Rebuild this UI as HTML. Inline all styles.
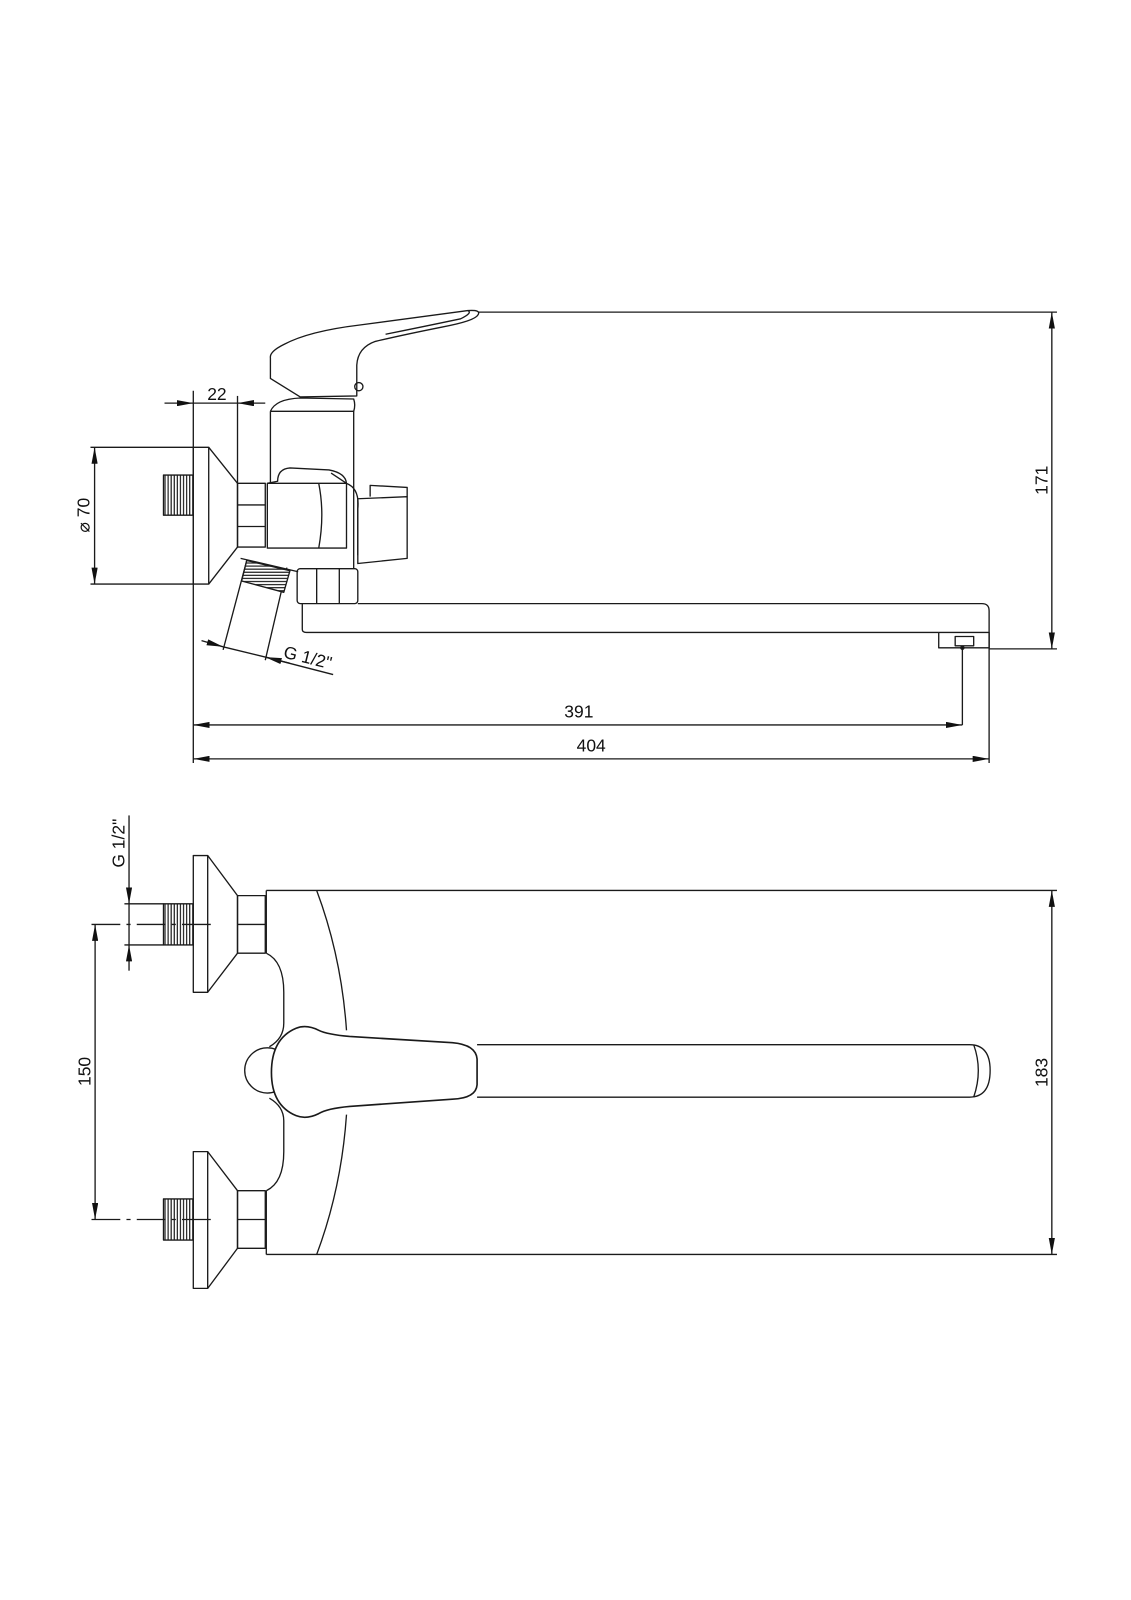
<!DOCTYPE html>
<html><head><meta charset="utf-8"><style>
html,body{margin:0;padding:0;background:#fff;}
svg{display:block}
text{font-family:"Liberation Sans",sans-serif;font-size:17px;fill:#111;}
</style></head><body>
<svg width="1131" height="1600" viewBox="0 0 1100 1556" xmlns="http://www.w3.org/2000/svg">
<defs>
<marker id="a" viewBox="0 0 16 6" refX="16" refY="3" markerWidth="16" markerHeight="6" markerUnits="userSpaceOnUse" orient="auto-start-reverse"><path d="M0,0 L16,3 L0,6 Z" fill="#111"/></marker>
<pattern id="th" width="3" height="10" patternUnits="userSpaceOnUse"><rect width="3" height="10" fill="#fff"/><line x1="1.5" y1="0" x2="1.5" y2="10" stroke="#222" stroke-width="1.2"/></pattern>
<pattern id="thh" width="10" height="3" patternUnits="userSpaceOnUse"><rect width="10" height="3" fill="#fff"/><line x1="0" y1="1.5" x2="10" y2="1.5" stroke="#222" stroke-width="1.2"/></pattern>
</defs>
<g fill="none" stroke="#1a1a1a" stroke-width="1.3" stroke-linejoin="round">

<!-- ===== TOP VIEW ===== -->
<!-- wall plate -->
<rect x="188" y="435" width="15" height="133" fill="#fff"/>
<path d="M203,435 L231,470 L231,532 L203,568"/>
<rect x="159" y="462" width="29" height="39" fill="url(#th)"/>
<!-- nut -->
<rect x="231" y="470" width="27" height="62"/>
<line x1="231" y1="491" x2="258" y2="491"/><line x1="231" y1="512" x2="258" y2="512"/>
<!-- body cylinder -->
<path d="M263,400 Q268,388 292,387 L344,388 Q346,394 344,400"/>
<path d="M263,400 L344,400 L344,553 M263,400 L263,470"/>
<!-- handle -->
<path d="M263,348 Q262,342 276,335 Q300,322 350,316 L455,302 Q468,301 465,306 Q462,312 430,318 Q390,326 365,332 Q348,338 347,355 L347,385 L292,386 L263,368 Z" fill="#fff"/>
<path d="M455,302 Q460,304 448,310 Q410,318 375,325"/>
<circle cx="349" cy="376" r="4"/>
<!-- diverter -->
<path d="M260,470 L260,533 L337,533 L337,470 Q336,460 320,457 L282,455 Q270,456 270,468 Z" fill="#fff"/>
<path d="M260,470 L337,470 M310,470 Q316,500 310,533 M322,460 L337,470"/>
<path d="M337,470 Q350,475 348,495 L348,540"/>
<path d="M348,485 L396,483 L396,543 L348,548 Z"/>
<path d="M360,483 L360,472 L396,474 L396,483"/>
<!-- lower nut -->
<rect x="289" y="553" width="59" height="34" rx="3"/>
<line x1="308" y1="553" x2="308" y2="587"/><line x1="330" y1="553" x2="330" y2="587"/>
<!-- spout -->
<path d="M294,587 L294,612 Q294,615 298,615 L913,615 M348,587 L955,587 Q962,587 962,594 L962,615"/>
<path d="M913,615 L913,630 L962,630 L962,615 L913,615"/>
<rect x="929" y="619" width="18" height="9"/>
<circle cx="936" cy="630" r="1.5" fill="#111"/>
<!-- inlet pipe -->
<path d="M240,545 L217,632 M279,552 L258,642"/>
<path d="M240,545 L282,555" />
<polygon points="240,545 282,555 276,576 235,565" fill="url(#thh)" transform="rotate(0)"/>
<path d="M234,543 L290,556"/>
<!-- dims -->
<line x1="465" y1="303.5" x2="1028" y2="303.5"/>
<line x1="962" y1="631" x2="1028" y2="631"/>
<line x1="1023" y1="303.5" x2="1023" y2="631" marker-start="url(#a)" marker-end="url(#a)"/>
<line x1="188" y1="380" x2="188" y2="742"/>
<line x1="231" y1="385" x2="231" y2="470"/>
<line x1="160" y1="392" x2="188" y2="392" marker-end="url(#a)"/>
<line x1="188" y1="392" x2="231" y2="392"/>
<line x1="258" y1="392" x2="231" y2="392" marker-end="url(#a)"/>
<line x1="88" y1="435" x2="188" y2="435"/>
<line x1="88" y1="568" x2="188" y2="568"/>
<line x1="92" y1="435" x2="92" y2="568" marker-start="url(#a)" marker-end="url(#a)"/>
<line x1="196" y1="623" x2="217" y2="629" marker-end="url(#a)" />
<line x1="217" y1="629" x2="258" y2="639"/>
<line x1="282" y1="645" x2="258" y2="639" marker-end="url(#a)"/>
<line x1="258" y1="639" x2="324" y2="656"/>
<line x1="936" y1="631" x2="936" y2="705"/>
<line x1="962" y1="615" x2="962" y2="742"/>
<line x1="188" y1="705" x2="936" y2="705" marker-start="url(#a)" marker-end="url(#a)"/>
<line x1="188" y1="738" x2="962" y2="738" marker-start="url(#a)" marker-end="url(#a)"/>

<!-- ===== BOTTOM VIEW ===== -->
<!-- plates -->
<rect x="188" y="832" width="14" height="133" fill="#fff"/>
<path d="M202,832 L231,871 L231,927 L202,965"/>
<rect x="159" y="879" width="29" height="40" fill="url(#th)"/>
<rect x="231" y="871" width="27" height="56"/>
<line x1="231" y1="899" x2="258" y2="899"/>
<rect x="188" y="1120" width="14" height="133" fill="#fff"/>
<path d="M202,1120 L231,1158 L231,1214 L202,1253"/>
<rect x="159" y="1166" width="29" height="40" fill="url(#th)"/>
<rect x="231" y="1158" width="27" height="56"/>
<line x1="231" y1="1186" x2="258" y2="1186"/>
<!-- body -->
<path d="M259,866 L1028,866 M259,1220 L1028,1220"/>
<path d="M259,866 L259,927 M259,1158 L259,1220"/>
<path d="M308,866 Q332,930 337,1002 M308,1220 Q332,1156 337,1084"/>
<path d="M259,927 Q276,935 276,965 L276,995 Q276,1010 262,1018 M259,1158 Q276,1150 276,1120 L276,1090 Q276,1076 262,1068"/>
<circle cx="260" cy="1041" r="22"/>
<!-- handle -->
<path d="M464,1016 L943,1016 Q963,1016 963,1041 Q963,1067 943,1067 L464,1067"/>
<path d="M947,1016 Q956,1041 947,1067"/>
<path d="M288,1000 Q298,996 310,1002 Q318,1006 340,1008 L440,1014 Q463,1016 464,1030 L464,1055 Q463,1068 440,1069 L340,1076 Q318,1078 310,1083 Q298,1089 288,1085 Q264,1075 264,1043 Q264,1010 288,1000 Z" fill="#fff" stroke-width="1.6"/>
<!-- dims -->
<line x1="89" y1="899" x2="209" y2="899" stroke-dasharray="28,6,4,6"/>
<line x1="89" y1="1186" x2="209" y2="1186" stroke-dasharray="28,6,4,6"/>
<line x1="92.5" y1="899" x2="92.5" y2="1186" marker-start="url(#a)" marker-end="url(#a)"/>
<line x1="121" y1="879" x2="159" y2="879"/>
<line x1="121" y1="919" x2="159" y2="919"/>
<line x1="125.5" y1="793" x2="125.5" y2="879" marker-end="url(#a)"/>
<line x1="125.5" y1="879" x2="125.5" y2="919"/>
<line x1="125.5" y1="944" x2="125.5" y2="919" marker-end="url(#a)"/>
<line x1="1023" y1="866" x2="1023" y2="1220" marker-start="url(#a)" marker-end="url(#a)"/>
</g>
<g>
<text x="211" y="389" text-anchor="middle">22</text>
<text transform="translate(87,501) rotate(-90)" text-anchor="middle">⌀ 70</text>
<text transform="translate(298,645) rotate(14)" text-anchor="middle">G 1/2"</text>
<text transform="translate(1019,467) rotate(-90)" text-anchor="middle">171</text>
<text x="563" y="698" text-anchor="middle">391</text>
<text x="575" y="731" text-anchor="middle">404</text>
<text transform="translate(121,820) rotate(-90)" text-anchor="middle">G 1/2"</text>
<text transform="translate(88,1042) rotate(-90)" text-anchor="middle">150</text>
<text transform="translate(1019,1043) rotate(-90)" text-anchor="middle">183</text>
</g>
</svg>
</body></html>
